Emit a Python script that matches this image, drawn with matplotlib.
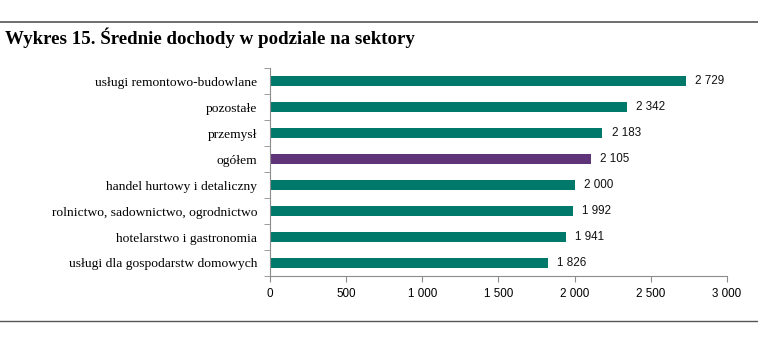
import matplotlib.pyplot as plt
from matplotlib.lines import Line2D

categories = [
    "usługi remontowo-budowlane",
    "pozostałe",
    "przemysł",
    "ogółem",
    "handel hurtowy i detaliczny",
    "rolnictwo, sadownictwo, ogrodnictwo",
    "hotelarstwo i gastronomia",
    "usługi dla gospodarstw domowych",
]
values = [2729, 2342, 2183, 2105, 2000, 1992, 1941, 1826]
highlight = "ogółem"

teal = "#00796B"
purple = "#5F3479"
grid_grey = "#8C8C8C"

def fmt(v):
    return "{:,}".format(int(v)).replace(",", " ")

fig = plt.figure(figsize=(7.58, 3.42), dpi=100)
ax = fig.add_axes([0.356, 0.193, 0.603, 0.608])

n = len(categories)
ypos = list(range(n))[::-1]
colors = [purple if c == highlight else teal for c in categories]
ax.barh(ypos, values, height=0.4, color=colors)

for y, v in zip(ypos, values):
    ax.text(v + 60, y, fmt(v), va="center", ha="left", fontsize=8.4,
            family="Liberation Sans", color="#111111")

ax.set_xlim(0, 3000)
ax.set_ylim(-0.5, n - 0.5)
ax.set_xticks(range(0, 3001, 500))
ax.set_xticklabels([fmt(t) for t in range(0, 3001, 500)], fontsize=8.4,
                   family="Liberation Sans")
ax.set_yticks(ypos)
ax.set_yticklabels(categories, fontsize=9.7, family="Liberation Serif")
ax.tick_params(axis="y", length=0, pad=9)
ax.set_yticks([i - 0.5 for i in range(n + 1)], minor=True)
ax.tick_params(axis="y", which="minor", length=4, color=grid_grey)
ax.tick_params(axis="x", length=4, color=grid_grey, pad=5)

for s in ["top", "right"]:
    ax.spines[s].set_visible(False)
for s in ["left", "bottom"]:
    ax.spines[s].set_color(grid_grey)
    ax.spines[s].set_linewidth(0.8)

fig.add_artist(Line2D([0, 1], [1 - 22 / 342] * 2, color="#555555", lw=1.2,
                      transform=fig.transFigure))
fig.add_artist(Line2D([0, 1], [1 - 321 / 342] * 2, color="#555555", lw=1.0,
                      transform=fig.transFigure))
fig.text(0.006, 1 - 38 / 342, "Wykres 15. Średnie dochody w podziale na sektory",
         fontsize=13.6, fontweight="bold", family="Liberation Serif", va="center")

fig.savefig("out.png", dpi=100)
